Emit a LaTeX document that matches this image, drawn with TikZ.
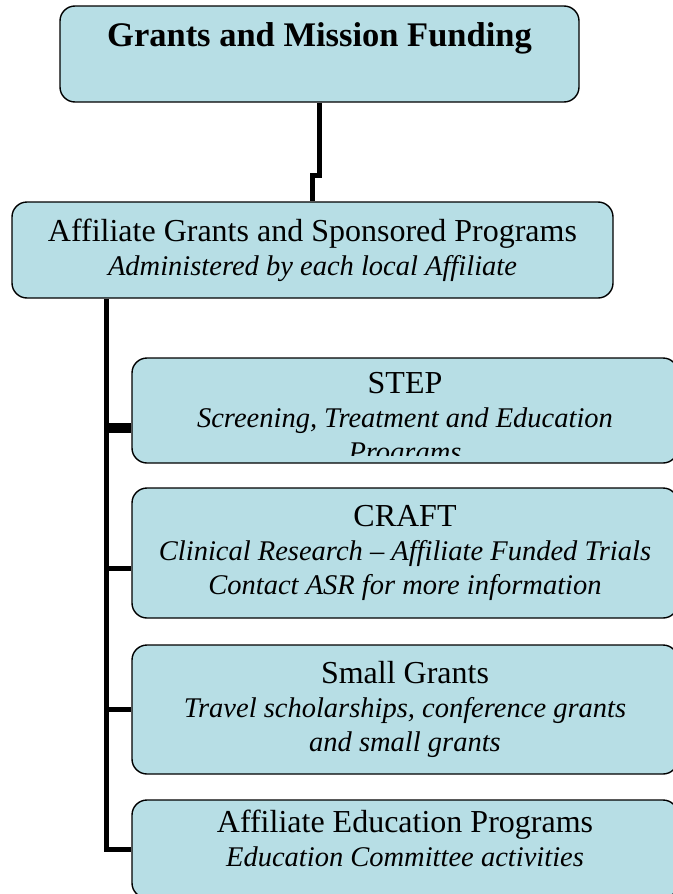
\documentclass[tikz,border=0pt]{standalone}
\usepackage{fontspec}
\setmainfont{Liberation Serif}
\definecolor{boxfill}{RGB}{183,222,229}

\begin{document}
\begin{tikzpicture}[x=1pt,y=-1pt,
  box/.style={draw=black,line width=1.4pt,fill=boxfill,rounded corners=15pt,inner sep=0pt,align=center,font=\fontsize{28.5}{34}\selectfont},
  link/.style={line width=5pt}]
\def\headsize{\fontsize{32}{34}\selectfont}
\useasboundingbox (0,0) rectangle (672,894);
\node[box,minimum width=519pt,text height=40pt,text depth=56pt,font=\fontsize{34.5}{40}\selectfont\bfseries] (funding) at (319.5,54) {Grants and Mission Funding};
\node[box,minimum width=601pt,minimum height=96pt] (affiliate) at (312.5,250) {{\headsize Affiliate Grants and Sponsored Programs}\\ \textit{Administered by each local Affiliate}};
\node[box,minimum width=546pt,minimum height=105pt,
  path picture={\clip (path picture bounding box.north west) rectangle ([yshift=8pt]path picture bounding box.south east);  % last line runs out of the box
    \node[draw=none,fill=none,inner sep=0pt,minimum width=0pt,minimum height=0pt,align=center,font=\fontsize{28.5}{34}\selectfont,yshift=-9pt] (steptext) at (path picture bounding box.center) {{\headsize STEP}\\ \textit{Screening, Treatment and Education}\\ \textit{Programs}};}] (step) at (405,410.5) {};
\node[box,minimum width=546pt,minimum height=130pt] (craft) at (405,553) {{\headsize CRAFT}\\ \textit{Clinical Research – Affiliate Funded Trials}\\ \textit{Contact ASR for more information}};
\node[box,minimum width=546pt,minimum height=129pt] (small) at (405,709.5) {{\headsize Small Grants}\\ \textit{Travel scholarships, conference grants}\\ \textit{and small grants}};
\node[box,minimum width=546pt,text height=66pt,text depth=32pt] (edu) at (405,849) {{\headsize Affiliate Education Programs}\\ \textit{Education Committee activities}};
\coordinate (spine) at ([xshift=95pt]affiliate.south west);
\coordinate (stepjoin) at ([yshift=-17pt]step.west);
\coordinate (craftjoin) at ([yshift=-15pt]craft.west);
\draw[link] (funding.south) -- ++(0,73) -| (affiliate.north);
\draw[link] (spine) |- (edu.west);
\draw[link,line width=10pt] (spine |- stepjoin) -- (stepjoin);
\draw[link] (spine |- craftjoin) -- (craftjoin);
\draw[link] (spine |- small.west) -- (small.west);
\end{tikzpicture}
\end{document}
